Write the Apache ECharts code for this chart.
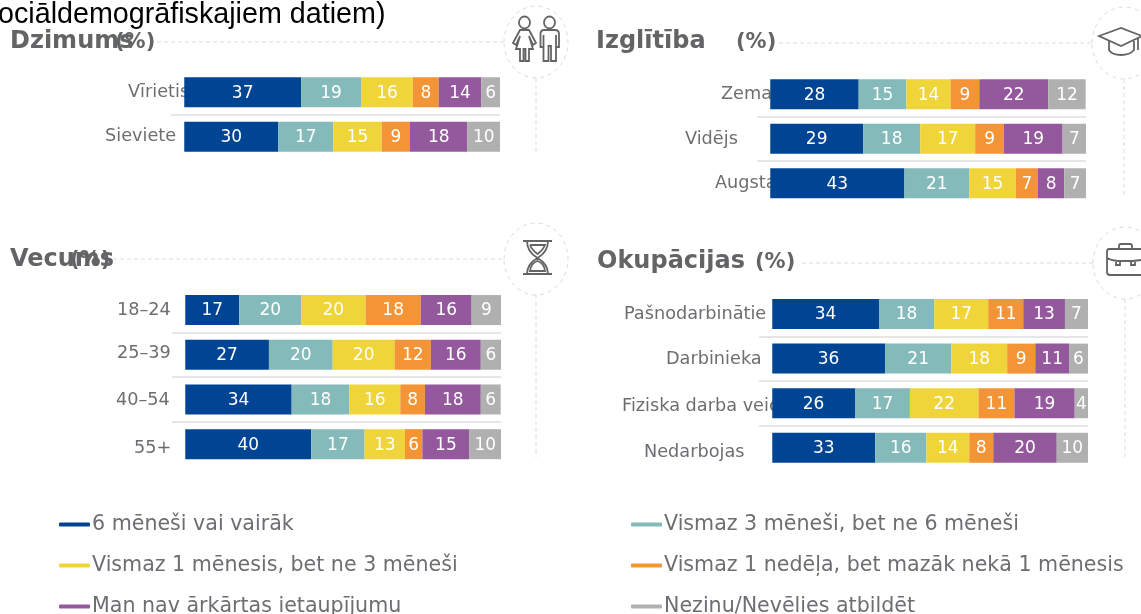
<!DOCTYPE html>
<html><head><meta charset="utf-8">
<style>html,body{margin:0;padding:0;background:#fff;overflow:hidden}#c{width:1141px;height:614px}</style>
<script src="https://cdn.jsdelivr.net/npm/echarts@6/dist/echarts.min.js"></script>
</head><body><div id="c"></div>
<script>
// Shares; rounding gives the printed labels.
var seriesNames = ['6 mēneši vai vairāk','Vismaz 3 mēneši, bet ne 6 mēneši','Vismaz 1 mēnesis, bet ne 3 mēneši','Vismaz 1 nedēļa, bet mazāk nekā 1 mēnesis','Man nav ārkārtas ietaupījumu','Nezinu/Nevēlies atbildēt'];
var colors = ['#004494','#85BABB','#EFD539','#F39536','#93599C','#B0B0B0'];

var genderCats = ['Vīrietis','Sieviete'];
var genderVals = [[37.0,19.0,16.4,8.2,13.5,5.9],[29.8,17.4,15.3,9.0,18.2,10.3]];
var eduCats = ['Zema','Vidējs','Augsta'];
var eduVals = [[28.0,15.1,14.0,9.1,21.9,11.8],[29.4,18.1,17.4,9.1,18.6,7.4],[42.5,20.5,14.8,7.0,8.3,6.9]];
var ageCats = ['18–24','25–39','40–54','55+'];
var ageVals = [[17.1,19.6,20.4,17.5,16.1,9.3],[26.5,20.2,19.6,11.5,15.8,6.4],[33.7,18.3,16.1,7.8,17.7,6.3],[39.9,16.9,12.8,5.5,14.9,10.0]];
var jobCats = ['Pašnodarbinātie','Darbinieka','Fiziska darba veicēji','Nedarbojas'];
var jobVals = [[33.8,17.5,17.1,11.1,13.2,7.3],[35.7,21.0,17.7,8.9,10.7,6.0],[26.2,17.4,21.7,11.4,19.1,4.2],[32.6,16.2,13.6,7.6,20.1,9.9]];

var FONT = '"DejaVu Sans"', GREY = '#636466', AXIS_MIN = -4.2;
var panels = [
  {cats:genderCats, vals:genderVals, left:171, right:500, top:70, height:89, start:[128,105], dy:[0,0]},
  {cats:eduCats, vals:eduVals, left:757, right:1086, top:72, height:133.5, start:[721,685,715], dy:[0,2,0]},
  {cats:ageCats, vals:ageVals, left:172, right:501, top:287.7, height:178.8, start:[117,117,116,134], dy:[0,-2,2,8]},
  {cats:jobCats, vals:jobVals, left:759, right:1088, top:291.7, height:178.4, start:[624,666,622,644], dy:[0,2,6,10]}
];

var grid=[],xAxis=[],yAxis=[],series=[];
panels.forEach(function(p,gi){
  grid.push({left:p.left,top:p.top,width:p.right-p.left,height:p.height});
  xAxis.push({gridIndex:gi,type:'value',min:AXIS_MIN,max:100,show:false});
  var rich={};
  var minStart=Math.min.apply(null,p.start);
  p.cats.forEach(function(c,i){
    var d=p.dy[i];
    rich['r'+i]={fontFamily:FONT,fontSize:17.7,color:'#6d6e71',
      padding:[d>0?d:0,0,d<0?-d:0,p.start[i]-minStart]};
  });
  yAxis.push({gridIndex:gi,type:'category',inverse:true,data:p.cats,
    axisLine:{show:false},axisTick:{show:false},
    splitLine:{show:true,showMinLine:false,showMaxLine:false,lineStyle:{color:'#e6e6e6',width:2}},
    axisLabel:{interval:0,align:'left',margin:p.left-minStart,rich:rich,
      formatter:function(v,i){return '{r'+i+'|'+v+'}';}}
  });
  seriesNames.forEach(function(n,si){
    series.push({name:n,type:'bar',stack:'s'+gi,xAxisIndex:gi,yAxisIndex:gi,barWidth:30,
      itemStyle:{color:colors[si]},
      label:{show:true,position:'inside',offset:[0,1],color:'#fff',fontFamily:FONT,fontSize:17,
        formatter:function(o){return Math.round(o.value);}},
      data:p.vals.map(function(r){return r[si];})});
  });
});

var legendPos=[[59,523],[631,523],[59,564],[631,564],[59,605],[631,605]];
var legend=seriesNames.map(function(n,i){
  return {data:[n],left:legendPos[i][0],top:legendPos[i][1]-9,padding:0,selectedMode:false,icon:'roundRect',itemWidth:31,itemHeight:4,
    textStyle:{fontFamily:FONT,fontSize:20.6,color:'#6d6e71',padding:[0,0,0,-3]}};
});

function t(text,left,cy,size){
  return {text:text,left:left,top:cy,textVerticalAlign:'middle',padding:0,
    textStyle:{fontFamily:FONT,fontWeight:'bold',fontSize:size,color:GREY}};
}
var title=[
  {text:'ociāldemogrāfiskajiem datiem)',left:-2,top:1,padding:0,textStyle:{fontFamily:'"Liberation Sans"',fontWeight:'normal',fontSize:28.7,color:'#000'}},
  t('Dzimums',10,42,24),t('(%)',115,43,21),
  t('Izglītība',596,42,24),t('(%)',736,43,21),
  t('Vecums',10,260,24),t('(%)',70,261,21),
  t('Okupācijas',597,262,24),t('(%)',755,263,21)
];

var iconPaths={
  iconFemale:'M519 22.5a5.5 6 0 1 0 11 0a5.5 6 0 1 0 -11 0M520 30L529 30L536 43L533 45L529 36L533 49L529 49L529 61L525.5 61L525.5 49L523.5 49L523.5 61L520 61L520 49L516 49L520 36L516 45L513 43Z',
  iconMale:'M544 22.5a5.5 6 0 1 0 11 0a5.5 6 0 1 0 -11 0M544 30L555 30Q559 30 559 34L559 47L556 47L556 35L556 61L551 61L551 46L548.5 46L548.5 61L543.5 61L543.5 35L543.5 47L540.5 47L540.5 34Q540.5 30 544 30Z',
  iconCap:'M1099 36L1121 28L1142 36L1121 46ZM1109 41L1109 50Q1112 55 1121 55Q1130 55 1134 50L1134 41M1138 38L1138 50',
  iconGlass:'M523 241L552 241M523 274L552 274M527 241Q527 252 537.5 258Q527 264 527 274M548 241Q548 252 537.5 258Q548 264 548 274M530 245L545 245Q543 250 537.5 254Q532 250 530 245M530 271Q531 263 537.5 261Q544 263 545 271Z',
  iconCase:'M1109 249L1141 249M1109 249Q1107 249 1107 252L1107 272Q1107 275 1110 275L1141 275M1107 258Q1112 261 1118 261L1133 261L1141 260M1119 249L1119 246Q1119 244 1121 244L1130 244Q1132 244 1132 246L1132 249M1116 261L1116 265L1120 265L1120 261M1131 261L1131 265L1135 265L1135 261'
};
Object.keys(iconPaths).forEach(function(k){echarts.graphic.registerShape(k,echarts.graphic.extendPath(iconPaths[k],{}));});

var DASH='#dcdcdc';
function dash(x1,y1,x2,y2){return {type:'line',silent:true,z:-1,shape:{x1:x1,y1:y1,x2:x2,y2:y2},style:{stroke:DASH,lineWidth:1,lineDash:[4,3]}};}
function ring(cx,cy){return {type:'ellipse',silent:true,z:-1,shape:{cx:cx,cy:cy,rx:32,ry:36},style:{fill:'none',stroke:DASH,lineWidth:1,lineDash:[4,4]}};}
function icon(k){return {type:k,silent:true,style:{fill:'none',stroke:GREY,lineWidth:1.8}};}

var graphic=[
  dash(157,42,504,42),ring(536,42),dash(536,78,536,156),
  dash(779,43,1092,43),ring(1124,43),dash(1124,79,1124,197),
  dash(113,259,504,259),ring(536,259),dash(536,295,536,457),
  dash(802,263,1093,263),ring(1125,263),dash(1125,299,1125,460),
  icon('iconFemale'),icon('iconMale'),icon('iconCap'),icon('iconGlass'),icon('iconCase')
];

echarts.init(document.getElementById('c'),null,{renderer:'canvas'}).setOption({
  animation:false,backgroundColor:'#fff',title:title,legend:legend,grid:grid,xAxis:xAxis,yAxis:yAxis,series:series,graphic:graphic
});
</script></body></html>
